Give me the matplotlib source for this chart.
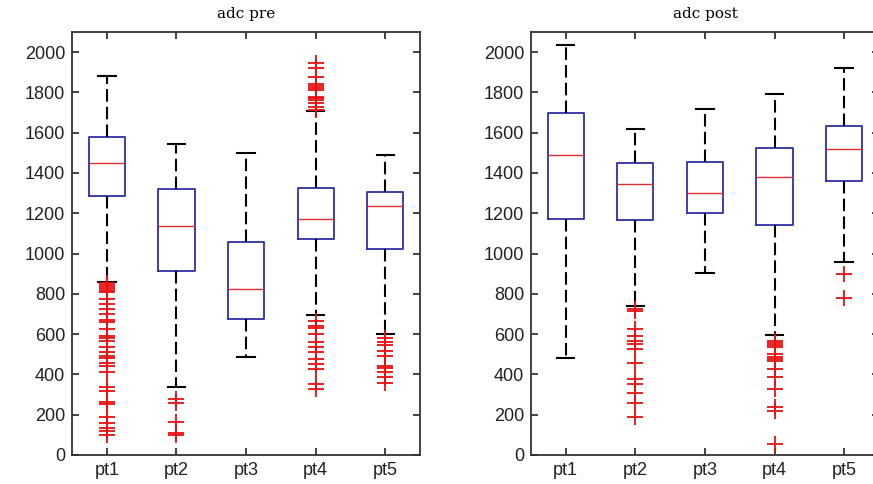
import matplotlib
matplotlib.use("Agg")
import matplotlib.pyplot as plt

# labels
groups = ["pt1", "pt2", "pt3", "pt4", "pt5"]
yticks = list(range(0, 2001, 200))

# adc pre: box statistics
pre_med = [1451, 1138, 824, 1171, 1235]
pre_q1 = [1287, 915, 675, 1071, 1021]
pre_q3 = [1577, 1320, 1058, 1325, 1305]
pre_lo = [860, 335, 484, 695, 600]
pre_hi = [1880, 1545, 1501, 1706, 1488]
pre_out_pt1 = [855, 845, 835, 825, 815, 810, 775, 750, 725, 700, 670, 660, 625,
               590, 580, 567, 534, 509, 490, 480, 459, 443, 410, 335, 318, 265,
               255, 186, 161, 136, 119, 100]
pre_out_pt2 = [277, 260, 166, 108, 100]
pre_out_pt3 = []
pre_out_pt4 = [1944, 1920, 1877, 1840, 1830, 1820, 1811, 1778, 1770, 1760, 1745,
               1725, 1712, 667, 640, 630, 600, 559, 534, 509, 476, 451, 426, 352, 327]
pre_out_pt5 = [580, 560, 548, 517, 493, 440, 430, 410, 385, 355]

# adc post
post_med = [1491, 1343, 1302, 1380, 1521]
post_q1 = [1171, 1164, 1202, 1144, 1358]
post_q3 = [1698, 1449, 1456, 1522, 1632]
post_lo = [479, 741, 902, 595, 957]
post_hi = [2035, 1620, 1715, 1794, 1919]
post_out_pt1 = []
post_out_pt2 = [725, 715, 625, 592, 567, 551, 526, 456, 377, 352, 310, 260, 189]
post_out_pt3 = []
post_out_pt4 = [565, 555, 545, 538, 501, 485, 475, 468, 426, 385, 327, 239, 219, 53]
post_out_pt5 = [896, 778]

pre_out = [pre_out_pt1, pre_out_pt2, pre_out_pt3, pre_out_pt4, pre_out_pt5]
post_out = [post_out_pt1, post_out_pt2, post_out_pt3, post_out_pt4, post_out_pt5]


def make_stats(med, q1, q3, lo, hi, out):
    return [dict(med=m, q1=a, q3=b, whislo=l, whishi=h, fliers=f)
            for m, a, b, l, h, f in zip(med, q1, q3, lo, hi, out)]


fig = plt.figure(figsize=(8.73, 4.84), dpi=100)
ax1 = fig.add_axes([0.0825, 0.060, 0.3986, 0.874])
ax2 = fig.add_axes([0.6082, 0.060, 0.3986, 0.874])

blue = "#2e2ea8"
red = "#e81010"

panels = [
    (ax1, make_stats(pre_med, pre_q1, pre_q3, pre_lo, pre_hi, pre_out), "adc pre"),
    (ax2, make_stats(post_med, post_q1, post_q3, post_lo, post_hi, post_out), "adc post"),
]

for ax, stats, title in panels:
    ax.bxp(stats, positions=range(1, 6), widths=0.52, capwidths=0.25,
           boxprops=dict(color=blue, linewidth=1.3),
           medianprops=dict(color="#e03030", linewidth=1.0),
           whiskerprops=dict(color="black", linewidth=1.5, linestyle=(0, (6, 2.5))),
           capprops=dict(color="black", linewidth=1.5),
           flierprops=dict(marker="+", markeredgecolor=red, markersize=12,
                           markeredgewidth=1.3, linestyle="none"))
    ax.set_xlim(0.5, 5.5)
    ax.set_ylim(0, 2100)
    ax.set_yticks(yticks)
    ax.set_xticks(range(1, 6))
    ax.set_xticklabels(groups)
    ax.tick_params(direction="in", length=5, width=1.2, top=True, right=True,
                   labelsize=13, colors="#222222", pad=5)
    for lab in ax.get_xticklabels() + ax.get_yticklabels():
        lab.set_family("Liberation Sans")
    for sp in ax.spines.values():
        sp.set_linewidth(1.3)
        sp.set_color("#333333")
    ax.set_title(title, fontsize=11, family="DejaVu Serif", pad=10)

fig.savefig("out.png", dpi=100)
